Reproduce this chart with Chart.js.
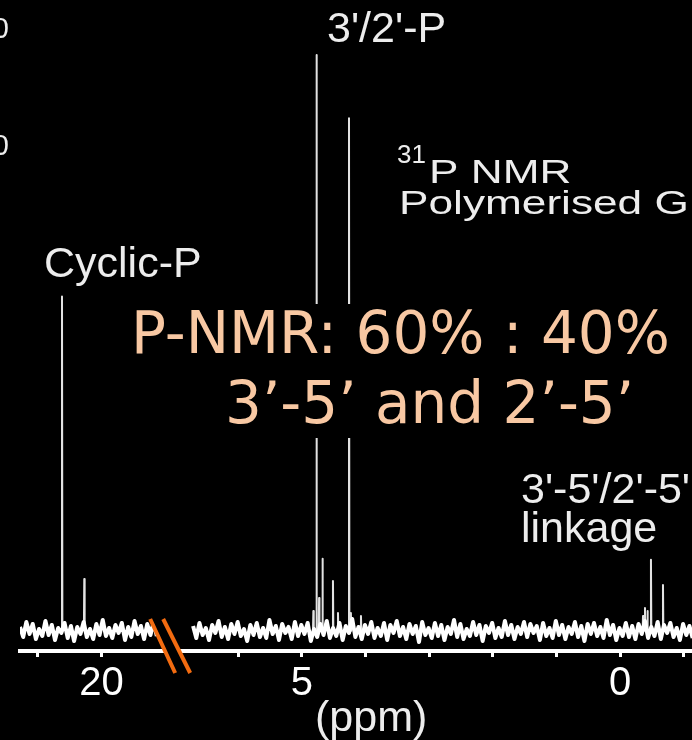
<!DOCTYPE html>
<html>
<head>
<meta charset="utf-8">
<script src="https://cdn.jsdelivr.net/npm/chart.js@4.4.1/dist/chart.umd.min.js"></script>
<style>
  html, body { margin: 0; padding: 0; background: #000; }
  #wrap { width: 692px; height: 740px; }
</style>
</head>
<body>
<div id="wrap"><canvas id="nmr" width="692" height="740"></canvas></div>
<script>
// 31P NMR spectrum on a broken ppm axis: left piece 21.3..19.2, right piece 6.7..-1.1
const leftStartPpm = 21.28;
const rightStartPpm = 6.71;
const stepPpm = 0.05;

// baseline noise (intensity, arbitrary units)
const leftNoise = [4,-6,9,-3,7,-8,2,-5,10,-4,6,-9,3,-2,8,-7,5,-10,4,-3,9,-6,2,-8,7,-4,11,-5,3,-7,6,-2,8,-9,4,-6,10,-3,5,-8,7,-4,9,-5];
const rightNoise = [
  5,-7,8,-4,3,-9,6,-2,10,-6,4,-8,7,-3,9,-5,2,-10,6,-4,
  8,-6,3,-7,11,-3,5,-9,7,-2,4,-8,9,-5,6,-3,8,-10,2,-6,
  7,-4,10,-7,3,-5,8,-9,5,-2,12,-6,4,-8,6,-3,9,-7,3,-5,
  8,-9,6,-2,10,-5,4,-8,7,-3,5,-11,9,-4,3,-7,8,-5,6,-9,
  4,-3,11,-6,7,-8,2,-5,9,-4,6,-10,5,-2,8,-7,3,-6,10,-4,
  6,-8,4,-3,9,-6,7,-2,5,-9,8,-5,3,-7,10,-4,6,-8,4,-3,
  9,-6,5,-10,7,-3,8,-5,4,-7,11,-4,6,-9,3,-5,8,-6,5,-8,
  7,-3,10,-7,4,-5,9,-8,6,-2,8,-6,3,-9,7,-4,5,-7
];

// resonances: cyclic-P, 3'/2'-P and the 3'-5'/2'-5' linkage signals
const peakPpm    = [20.62, 20.27, 4.82, 4.771, 4.73, 4.677, 4.512, 4.433, 4.26, 4.23, 4.072, -0.36, -0.391, -0.43, -0.485, -0.674];
const peakHeight = [334,   52,    20,   575,   33,   72,    50,    18,    512,  18,   15,    15,    23,     20,    71,     46];

const tickPpm    = [21, 20, 6, 5, 4, 3, 2, 1, 0, -1];
const tickLabels = ['', '20', '', '5', '', '', '', '', '0', ''];

// the axis break removes this many ppm between the two pieces
const axisShift = 11.85;
const toAxis = p => (p > 12 ? p - axisShift : p);

function noiseSegment(startPpm, noise) {
  return noise.map((v, i) => ({ x: toAxis(startPpm - i * stepPpm), y: v }));
}

// each line as its own stick, separated by gaps
function peakSticks() {
  const pts = [];
  peakPpm.forEach((p, i) => {
    pts.push({ x: toAxis(p + 0.006), y: 0 }, { x: toAxis(p), y: peakHeight[i] },
             { x: toAxis(p - 0.006), y: 0 }, { x: toAxis(p - 0.007), y: null });
  });
  return pts;
}

function drawText(ctx, txt, x, y, size, color, sx, family) {
  ctx.save();
  ctx.translate(x, y);
  ctx.scale(sx || 1, 1);
  ctx.font = size + 'px ' + (family || '"Liberation Sans", Arial, sans-serif');
  ctx.fillStyle = color;
  ctx.textBaseline = 'alphabetic';
  ctx.fillText(txt, 0, 0);
  ctx.restore();
}

const annotations = {
  id: 'annotations',
  afterDatasetsDraw(chart) {
    const { ctx, chartArea, scales: { x } } = chart;
    ctx.save();

    // axis break marks
    const bx = x.getPixelForValue(7.07), by = chartArea.bottom - 5;
    ctx.fillStyle = '#000';
    ctx.beginPath();
    ctx.moveTo(bx - 20, by - 27); ctx.lineTo(bx - 7, by - 27);
    ctx.lineTo(bx + 20, by + 27); ctx.lineTo(bx + 5, by + 27);
    ctx.closePath(); ctx.fill();
    ctx.strokeStyle = '#f26b10';
    ctx.lineWidth = 4;
    ctx.beginPath();
    ctx.moveTo(bx - 20, by - 27); ctx.lineTo(bx + 5, by + 27);
    ctx.moveTo(bx - 7, by - 27); ctx.lineTo(bx + 20, by + 27);
    ctx.stroke();

    const white = '#ededed';
    drawText(ctx, '3\'/2\'-P', 327, 42, 43, white);
    drawText(ctx, 'Cyclic-P', 44, 277, 43, white);
    drawText(ctx, '31', 397, 163, 26, white);
    drawText(ctx, 'P NMR', 429, 183, 34, white, 1.3);
    drawText(ctx, 'Polymerised G', 399, 214, 34, white, 1.3);
    drawText(ctx, '3\'-5\'/2\'-5\'', 521, 503, 43, white);
    drawText(ctx, 'linkage', 521, 542, 43, white);
    drawText(ctx, '(ppm)', 315, 731, 43, white);

    // cut-off axis labels of the neighbouring panel
    ctx.textAlign = 'right';
    ctx.font = '29px "Liberation Sans", Arial, sans-serif';
    ctx.fillStyle = white;
    ctx.fillText('10', 9, 38);
    ctx.fillText('10', 9, 155);
    ctx.textAlign = 'left';

    // overlay note on a black box
    ctx.fillStyle = '#000';
    ctx.fillRect(125, 304, 560, 134);
    const peach = '#f8c8a3';
    drawText(ctx, 'P-NMR: 60% : 40%', 131, 353, 58, peach, 1, '"DejaVu Sans", sans-serif');
    drawText(ctx, '3’-5’ and 2’-5’', 225, 423, 58, peach, 1, '"DejaVu Sans", sans-serif');

    ctx.restore();
  }
};

Chart.defaults.font.family = '"Liberation Sans", Arial, sans-serif';
Chart.defaults.color = '#fff';

const ctx = document.getElementById('nmr');
const nmrChart = new Chart(ctx, {
  type: 'line',
  data: {
    datasets: [
      { label: 'left', data: noiseSegment(leftStartPpm, leftNoise), borderWidth: 4 },
      { label: 'right', data: noiseSegment(rightStartPpm, rightNoise), borderWidth: 4 },
      { label: 'peaks', data: peakSticks(), borderWidth: 2, borderColor: '#e2e2e2', spanGaps: false }
    ]
  },
  options: {
    responsive: false,
    animation: false,
    layout: { padding: { left: 20, right: 0, top: 0, bottom: 29 } },
    plugins: { legend: { display: false }, tooltip: { enabled: false } },
    elements: {
      point: { radius: 0 },
      line: { borderColor: '#fff', tension: 0, borderJoinStyle: 'round' }
    },
    scales: {
      x: {
        type: 'linear',
        reverse: true,
        min: -1.13,
        max: 9.43,
        afterBuildTicks: s => { s.ticks = tickPpm.map(p => ({ value: toAxis(p) })); },
        ticks: {
          autoSkip: false,
          maxRotation: 0,
          color: '#fff',
          font: { size: 40 },
          padding: 3,
          callback: (v, i) => tickLabels[i]
        },
        grid: { drawOnChartArea: false, drawTicks: true, tickLength: 6, color: '#fff', lineWidth: 3 },
        border: { display: true, color: '#fff', width: 4 }
      },
      y: { display: false, min: -20, max: 630 }
    }
  },
  plugins: [annotations]
});
</script>
</body>
</html>
